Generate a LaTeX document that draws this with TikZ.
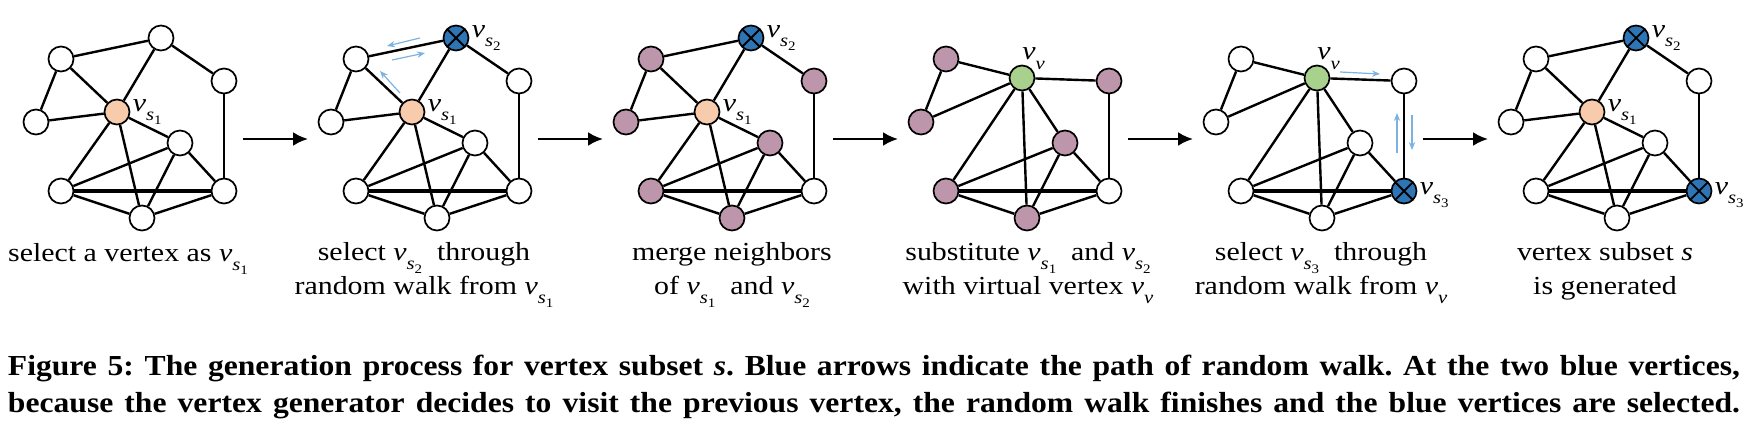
\documentclass[tikz,border=0pt]{standalone}
\usepackage{fontspec}
\setmainfont{Liberation Serif}
\newfontfamily\panelfont{Liberation Serif}[FakeStretch=1.15]
\newfontfamily\capfont{Liberation Serif}[FakeStretch=1.09]
\usetikzlibrary{arrows.meta,calc,positioning}
\definecolor{seedfill}{RGB}{248,203,173}
\definecolor{mergefill}{RGB}{190,150,172}
\definecolor{virtfill}{RGB}{169,209,142}
\definecolor{pickfill}{RGB}{46,117,182}
\definecolor{walkblue}{RGB}{125,178,224}
% v with a subscript s_k, and v_v
\newcommand{\vsub}[1]{\textit{v}\raisebox{-0.35em}{\fontsize{9}{9}\selectfont\textit{s}\raisebox{-0.22em}{\fontsize{6.5}{6.5}\selectfont #1}}}
\newcommand{\vvirt}{\textit{v}\raisebox{-0.35em}{\fontsize{9}{9}\selectfont\textit{v}}}

\begin{document}
\begin{tikzpicture}[x=0.5pt,y=-0.5pt]
\tikzstyle{vertex}=[circle, minimum size=12.5pt, inner sep=0pt, line width=0.85pt, draw=black, fill=white]
\tikzstyle{seed}=[vertex, fill=seedfill]
\tikzstyle{merged}=[vertex, fill=mergefill]
\tikzstyle{virtual}=[vertex, fill=virtfill]
\tikzstyle{picked}=[vertex, fill=pickfill, path picture={
  \draw[line width=0.9pt] (path picture bounding box.south west) -- (path picture bounding box.north east)
        (path picture bounding box.north west) -- (path picture bounding box.south east);}]
\tikzstyle{edge}=[line width=1.2pt]
\tikzstyle{heavy}=[line width=1.7pt]
\tikzstyle{connect}=[-{Latex[length=7.5pt,width=7pt]}, line width=1.25pt]
\tikzstyle{walk}=[-{Stealth[length=4pt,width=3.2pt]}, draw=walkblue, line width=0.6pt]
\tikzstyle{lbl}=[inner sep=1pt, font=\panelfont\fontsize{13}{16}\selectfont]
\tikzstyle{desc}=[anchor=base, inner sep=0pt, font=\panelfont\fontsize{13}{16}\selectfont]
\tikzstyle{figcap}=[anchor=base, inner sep=0pt, font=\capfont\fontsize{14.5}{18}\selectfont\bfseries\frenchspacing]
\tikzset{
  sone/.style={label={[lbl]right:\vsub{1}}},
  stwo/.style={label={[lbl]right:\vsub{2}}},
  sthree/.style={label={[lbl, yshift=-2pt]right:\vsub{3}}},
  vlab/.style={label={[lbl, anchor=south west, inner sep=0pt, yshift=-2.5pt]north:\vvirt}},
  p1S/.style={seed, sone},
  p2S/.style={seed, sone}, p2B/.style={picked, stwo},
  p3S/.style={seed, sone}, p3B/.style={picked, stwo},
  p3A/.style=merged, p3C/.style=merged, p3D/.style=merged,
  p3E/.style=merged, p3F/.style=merged, p3H/.style=merged,
  p4V/.style={virtual, vlab},
  p4A/.style=merged, p4C/.style=merged, p4D/.style=merged,
  p4E/.style=merged, p4F/.style=merged, p4H/.style=merged,
  p5V/.style={virtual, vlab}, p5G/.style={picked, sthree},
  p6S/.style={seed, sone}, p6B/.style={picked, stwo}, p6G/.style={picked, sthree}
}
\useasboundingbox (0,0) rectangle (1748,423);

% graphs around the seed vertex
\foreach \p/\dx in {1/0,2/295,3/590,6/1475} {
  \foreach \n/\x/\y in {A/61/59,B/161/38,C/224/81,D/36/122,S/117/112,E/180/143,F/61/191,G/224/191,H/142/218}
    \node[vertex, p\p\n/.try] (p\p\n) at (\x+\dx,\y) {};
  \foreach \u/\v in {A/B,B/C,A/D,A/S,D/S,B/S,C/G,S/E,S/F,S/H,E/F,E/H,E/G,F/H,H/G}
    \draw[edge] (p\p\u) -- (p\p\v);
  \draw[heavy] (p\p F) -- (p\p G);
}
% graphs around the virtual vertex
\foreach \p/\dx in {4/885,5/1180} {
  \foreach \n/\x/\y in {A/61/59,C/224/81,D/36/122,V/137/78,E/180/143,F/61/191,G/224/191,H/142/218}
    \node[vertex, p\p\n/.try] (p\p\n) at (\x+\dx,\y) {};
  \foreach \u/\v in {A/V,A/D,D/V,V/C,V/F,V/H,V/E,C/G,E/F,E/H,E/G,F/H,H/G}
    \draw[edge] (p\p\u) -- (p\p\v);
  \draw[heavy] (p\p F) -- (p\p G);
}

% random walk
\coordinate (w1s) at (400,93);  \coordinate (w1e) at (380,71);
\coordinate (w2s) at (420,38);  \coordinate (w2e) at (387,46);
\coordinate (w3s) at (392,60);  \coordinate (w3e) at (425,53);
\coordinate (w4s) at (1340,72); \coordinate (w4e) at (1380,74);
\coordinate (w5s) at (1397,153); \coordinate (w5e) at (1397,113);
\coordinate (w6s) at (1412,115); \coordinate (w6e) at (1412,150);
\foreach \w in {1,...,6}
  \draw[walk] (w\w s) -- (w\w e);

% steps
\foreach \i in {0,...,4} {
  \coordinate (a\i s) at (243+295*\i,139);
  \coordinate (a\i e) at (308+295*\i,139);
  \draw[connect] (a\i s) -- (a\i e);
}

\node[desc] (t1) at (128,261) {select a vertex as \vsub{1}};
\node[desc] (t2a) at (424,260) {select \vsub{2}\ \ through};
\node[desc] (t2b) at (424,294) {random walk from \vsub{1}};
\node[desc] (t3a) at (732,260) {merge neighbors};
\node[desc] (t3b) at (732,294) {of \vsub{1}\ \ and \vsub{2}};
\node[desc] (t4a) at (1028,260) {substitute \vsub{1}\ \ and \vsub{2}};
\node[desc] (t4b) at (1028,294) {with virtual vertex \vvirt};
\node[desc] (t5a) at (1321,260) {select \vsub{3}\ \ through};
\node[desc] (t5b) at (1321,294) {random walk from \vvirt};
\node[desc] (t6a) at (1605,260) {vertex subset \textit{s}};
\node[desc] (t6b) at (1605,294) {is generated};

\node[figcap] (cap1) at (874,375) {\makebox[866pt][s]{Figure 5: The generation process for vertex subset \textit{s}. Blue arrows indicate the path of random walk. At the two blue vertices,}};
\node[figcap] (cap2) at (874,412) {\makebox[866pt][s]{because the vertex generator decides to visit the previous vertex, the random walk finishes and the blue vertices are selected.}};
\end{tikzpicture}
\end{document}
